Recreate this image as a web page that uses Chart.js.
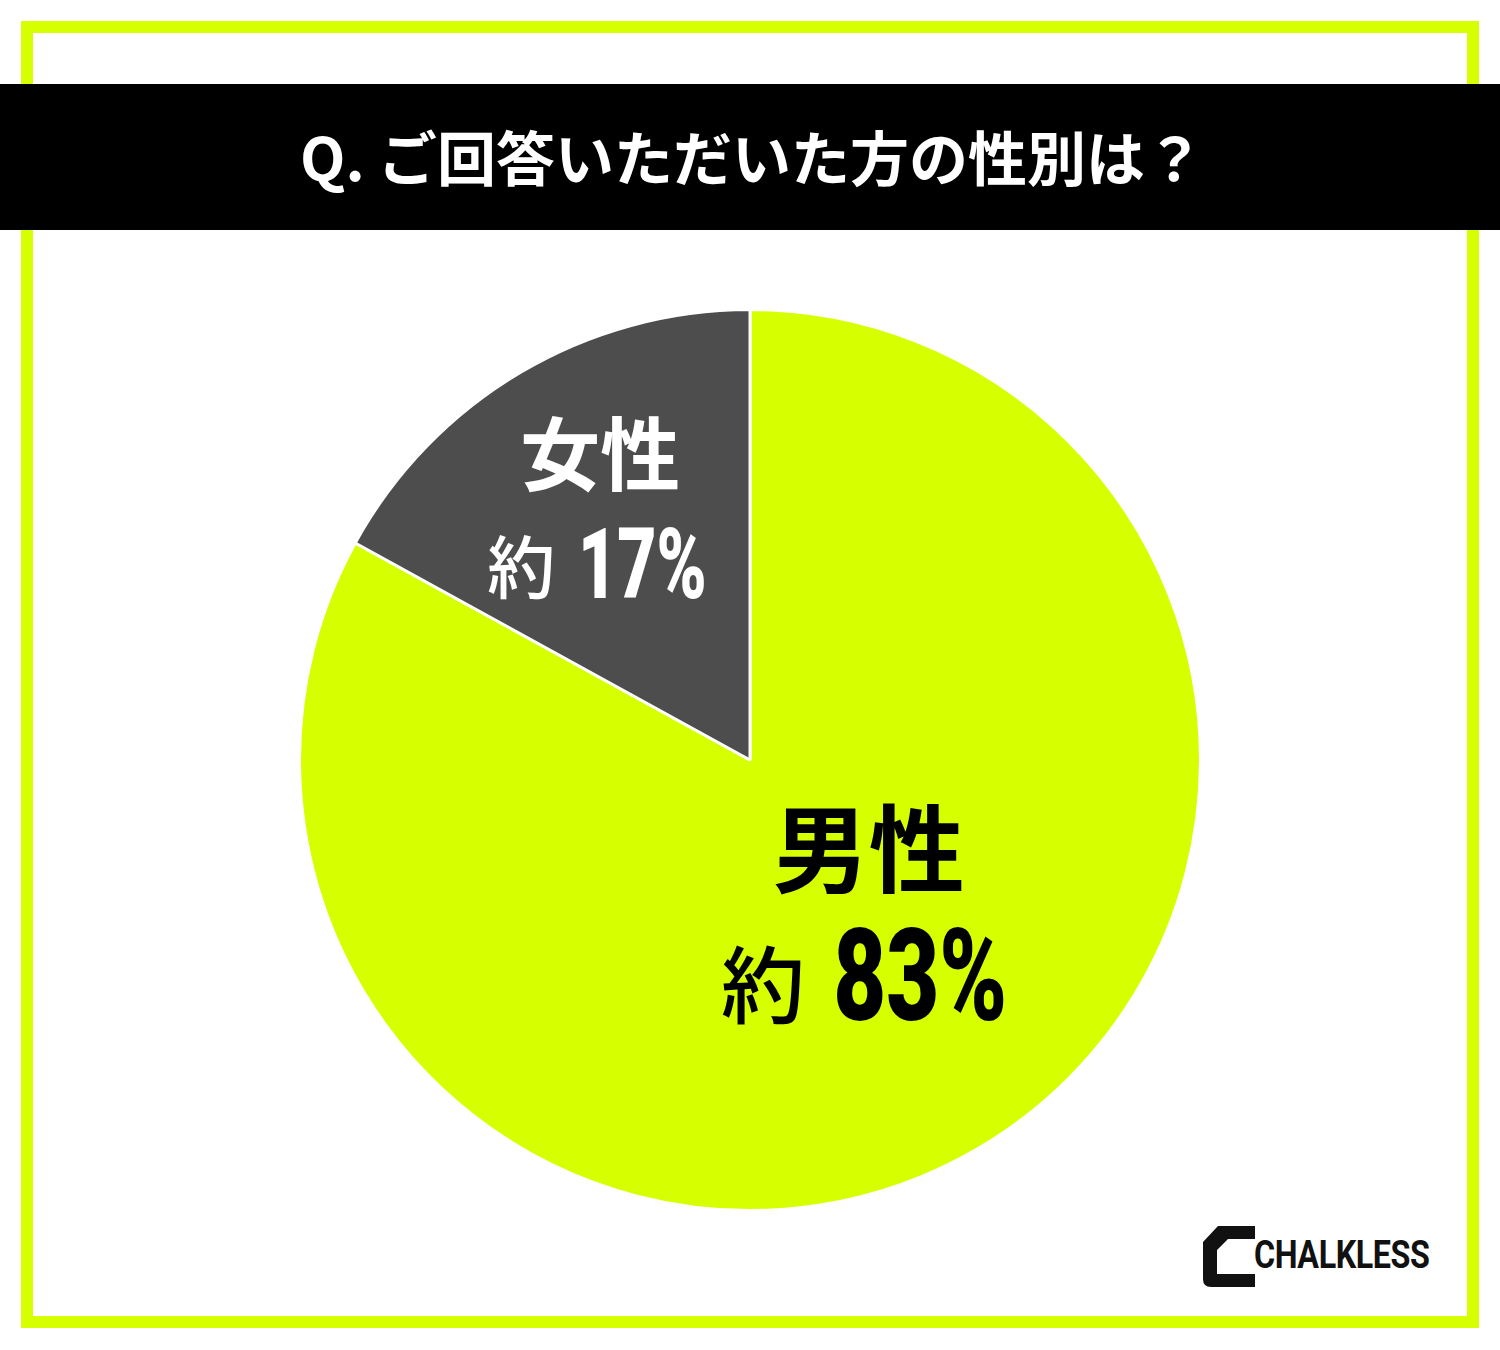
<!DOCTYPE html>
<html lang="ja">
<head>
<meta charset="utf-8">
<script src="https://cdn.jsdelivr.net/npm/chart.js@4.4.1/dist/chart.umd.min.js"></script>
<style>
  html, body { margin: 0; padding: 0; background: #fff; }
  body { width: 1500px; height: 1350px; position: relative; overflow: hidden; }
  #frame { position: absolute; left: 21px; top: 21px; width: 1434px; height: 1283px; border: 12px solid #D6FF00; }
  #titlebar { position: absolute; left: 0; top: 84px; width: 1500px; height: 146px; background: #000;
    color: #fff; font-family: "Noto Sans CJK JP", sans-serif; font-weight: 700; font-size: 59px;
    display: flex; align-items: center; justify-content: center; letter-spacing: 0px; }
  #titlebar span { position: relative; top: -2px; left: 2px; }
  #chartbox { position: absolute; left: 298px; top: 308px; width: 904px; height: 904px; }
  #logo { position: absolute; left: 1200px; top: 1224px; width: 240px; height: 68px; }
  #logo svg { position: absolute; left: 0; top: 0; }
  #logo .txt { position: absolute; left: 54px; top: 9px; font-family: Roboto, sans-serif; font-weight: 700;
    font-size: 38px; color: #111; transform: scaleX(0.85); transform-origin: left center; letter-spacing: -0.5px; }
</style>
</head>
<body>
<div id="frame"></div>
<div id="titlebar"><span id="title"></span></div>
<div id="chartbox"><canvas id="c"></canvas></div>
<div id="logo">
  <svg width="60" height="68" viewBox="0 0 60 68">
    <path d="M18,2 L55,2 L55,15 L28,15 L17,26 L17,50 L55,50 L55,63 L11,63 Q3,63 3,55 L3,18 Z" fill="#111"/>
  </svg>
  <div class="txt">CHALKLESS</div>
</div>
<script>
const titleText = "Q. ご回答いただいた方の性別は？";
const categories = ["男性", "女性"];
const values = [83, 17];
const valueLabels = ["83%", "17%"];
const prefixLabel = "約";
const sliceColors = ["#D6FF00", "#4D4D4D"];
const textColors = ["#000000", "#FFFFFF"];

document.getElementById("title").textContent = titleText;

const labelPlugin = {
  id: "sliceLabels",
  afterDatasetsDraw(chart) {
    const ctx = chart.ctx;
    const arc0 = chart.getDatasetMeta(0).data[0];
    const cx = arc0.x, cy = arc0.y, R = 450;
    const layout = [
      { name: [0.264, 0.196], nameSize: 96, pre: [0.122, 0.500], preSize: 84, val: [0.185, 0.578], valSize: 128, sx: 0.715 },
      { name: [-0.333, -0.680], nameSize: 80, pre: [-0.433, -0.429], preSize: 68, val: [-0.382, -0.360], valSize: 98, sx: 0.69 }
    ];
    ctx.save();
    categories.forEach((cat, i) => {
      const L = layout[i];
      ctx.fillStyle = textColors[i];
      ctx.font = `700 ${L.nameSize}px "Noto Sans CJK JP"`;
      ctx.textAlign = "center";
      ctx.textBaseline = "middle";
      ctx.fillText(cat, cx + L.name[0] * R, cy + L.name[1] * R);
      ctx.font = `500 ${L.preSize}px "Noto Sans CJK JP"`;
      ctx.textAlign = "right";
      ctx.fillText(prefixLabel, cx + L.pre[0] * R, cy + L.pre[1] * R);
      ctx.save();
      ctx.translate(cx + L.val[0] * R, cy + L.val[1] * R);
      ctx.scale(L.sx, 1);
      ctx.font = `900 ${L.valSize}px Roboto`;
      ctx.textAlign = "left";
      ctx.textBaseline = "alphabetic";
      ctx.fillText(valueLabels[i], 0, 0);
      ctx.restore();
    });
    ctx.restore();
  }
};

new Chart(document.getElementById("c"), {
  type: "pie",
  data: {
    labels: categories,
    datasets: [{
      data: values,
      backgroundColor: sliceColors,
      borderColor: "#FFFFFF",
      borderWidth: 3,
      hoverOffset: 0
    }]
  },
  options: {
    responsive: true,
    maintainAspectRatio: false,
    animation: false,
    events: [],
    layout: { padding: 0 },
    plugins: { legend: { display: false }, tooltip: { enabled: false }, title: { display: false } }
  },
  plugins: [labelPlugin]
});
</script>
</body>
</html>
